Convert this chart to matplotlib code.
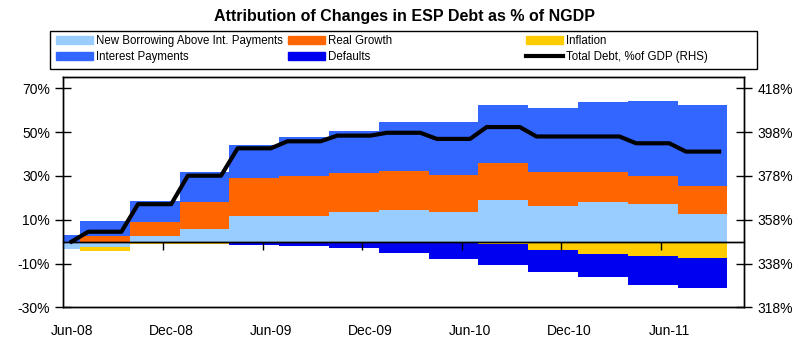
import numpy as np
import matplotlib
matplotlib.use("Agg")
import matplotlib.pyplot as plt
from matplotlib.patches import Patch, Rectangle
from matplotlib.lines import Line2D

plt.rcParams['font.family'] = ['Liberation Sans', 'DejaVu Sans']
plt.rcParams['axes.unicode_minus'] = False

# ---- data (quarterly, % of NGDP) ----
quarters = ["Q2-08", "Q3-08", "Q4-08", "Q1-09", "Q2-09", "Q3-09", "Q4-09",
            "Q1-10", "Q2-10", "Q3-10", "Q4-10", "Q1-11", "Q2-11", "Q3-11"]
new_borrowing = [-3.2, -2.3, 2.4, 5.9, 11.7, 11.7, 13.3, 14.5, 13.3, 19.1, 16.3, 18.2, 17.1, 12.8]
real_growth   = [0.0, 2.5, 6.5, 12.3, 17.2, 18.1, 17.9, 17.6, 17.1, 16.6, 15.3, 13.4, 13.0, 12.7]
inflation     = [0.0, -1.8, -1.3, -1.0, 0.0, 0.0, 0.0, 0.0, -0.3, -1.1, -4.0, -5.5, -6.6, -7.4]
interest      = [2.8, 6.8, 9.7, 13.7, 15.4, 17.9, 19.5, 22.5, 24.2, 26.5, 29.4, 32.1, 33.9, 36.7]
defaults      = [0.0, 0.0, 0.0, 0.0, -1.6, -2.1, -3.1, -5.0, -7.5, -9.8, -9.8, -10.6, -13.2, -14.0]
total_debt    = [348.0, 352.5, 365.1, 378.1, 390.6, 393.8, 396.4, 397.7, 394.9, 400.3,
                 396.0, 396.0, 392.9, 389.1]

month_labels = ["Jun-08", "Dec-08", "Jun-09", "Dec-09", "Jun-10", "Dec-10", "Jun-11"]
left_ticks = [-30, -10, 10, 30, 50, 70]
right_ticks = [318, 338, 358, 378, 398, 418]

series = [
    ("New Borrowing Above Int. Payments", new_borrowing, "#99CCFF"),
    ("Real Growth", real_growth, "#FF6600"),
    ("Inflation", inflation, "#FFCC00"),
    ("Interest Payments", interest, "#3366FF"),
    ("Defaults", defaults, "#0000F0"),
]

# monthly x axis: month 0 = Jun-08; first bar covers Jun-08 only, then quarters
nq = len(quarters)
centers = np.array([0.0] + [3 * k - 1.0 for k in range(1, nq)])
widths = np.array([1.0] + [3.0] * (nq - 1))

fig = plt.figure(figsize=(8.08, 3.53), dpi=100)
W, H = 808, 353
ax = fig.add_axes([63.3 / W, 1 - 307.3 / H, (744 - 63.3) / W, (307.3 - 76.7) / H])

ymin, ymax = -30, 75.3
pos_bottom = np.zeros(nq)
neg_bottom = np.zeros(nq)
for name, vals, col in series:
    v = np.array(vals, dtype=float)
    bottom = np.where(v >= 0, pos_bottom, neg_bottom)
    ax.bar(centers, v, width=widths, bottom=bottom, color=col, linewidth=0,
           align='center', zorder=2)
    pos_bottom = pos_bottom + np.where(v > 0, v, 0)
    neg_bottom = neg_bottom + np.where(v < 0, v, 0)

ax.set_xlim(-0.5, 40.5)
ax.set_ylim(ymin, ymax)
ax.set_yticks(left_ticks)
ax.set_yticklabels([f"{t}%" for t in left_ticks])
ax.set_xticks(np.arange(0, 37, 6))
ax.set_xticklabels(month_labels)
ax.tick_params(axis='x', length=0, pad=12, labelsize=10)
ax.tick_params(axis='y', direction='inout', length=11, width=1, labelsize=10, pad=4)
for s in ax.spines.values():
    s.set_linewidth(1.0)
    s.set_color('black')
    s.set_zorder(5)

# zero line drawn over the bars
ax.axhline(0, color='black', lw=1.0, zorder=4)

# category-boundary tick marks on the zero line
zloc = (0 - ymin) / (ymax - ymin)
sec = ax.secondary_xaxis(zloc)
sec.set_zorder(6)
sec.set_xticks(np.arange(5.5, 40, 6))
sec.tick_params(direction='out', length=6, width=1, labelbottom=False, labeltop=False)
sec.spines['bottom'].set_linewidth(1.0)
sec.spines['bottom'].set_color('black')

# total debt line on right axis (constant within each quarter)
ax2 = ax.twinx()
lx = [0.0]
ly = [total_debt[0]]
for k in range(1, nq):
    lx += [3 * k - 2.0, 3 * k + 0.0]
    ly += [total_debt[k], total_debt[k]]
ax2.plot(lx, ly, color='black', lw=3.0, solid_joinstyle='round', zorder=6)
ax2.set_ylim(318, 423.3)
ax2.set_yticks(right_ticks)
ax2.set_yticklabels([f"{t}%" for t in right_ticks])
ax2.tick_params(axis='y', direction='inout', length=11, width=1, labelsize=10, pad=4)
for s in ax2.spines.values():
    s.set_linewidth(1.0)

# title
fig.text(0.5, 1 - 16 / H, "Attribution of Changes in ESP Debt as % of NGDP",
         ha='center', va='center', fontsize=11.5, fontweight='bold')

# legend box
fig.add_artist(Rectangle((50 / W, 1 - 69 / H), (757 - 50) / W, (69 - 31) / H,
                         transform=fig.transFigure, fill=False, lw=1.0, ec='black'))
fs = 8.3
fs_px = fs * 100 / 72
entries = [
    (Patch(color="#99CCFF"), "New Borrowing Above Int. Payments", 56, 40.7),
    (Patch(color="#3366FF"), "Interest Payments", 56, 57.3),
    (Patch(color="#FF6600"), "Real Growth", 288, 40.7),
    (Patch(color="#0000F0"), "Defaults", 288, 57.3),
    (Patch(color="#FFCC00"), "Inflation", 526, 40.7),
    (Line2D([], [], color='black', lw=3.0), "Total Debt, %of GDP (RHS)", 526, 57.3),
]
for h, lab, x, y in entries:
    fig.legend(handles=[h], labels=[lab], loc='center left',
               bbox_to_anchor=(x / W, 1 - y / H), frameon=False, fontsize=fs,
               borderpad=0, borderaxespad=0, handlelength=37 / fs_px,
               handletextpad=3 / fs_px, handleheight=0.7)

fig.savefig("out.png", dpi=100)
